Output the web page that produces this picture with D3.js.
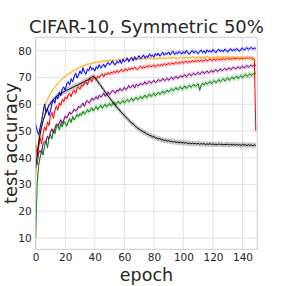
<!DOCTYPE html>
<html>
<head>
<meta charset="utf-8">
<script src="https://cdn.jsdelivr.net/npm/d3@7"></script>
<style>
  html, body { margin: 0; padding: 0; background: #fff; }
  text { font-family: "DejaVu Sans", sans-serif; fill: #262626; }
</style>
</head>
<body>
<svg id="chart"></svg>
<script>
let width = 286;
let height = 286;
let margin = { top: 37.3, right: 28.7, bottom: 36.7, left: 35.7 };

const xTicks = [0, 20, 40, 60, 80, 100, 120, 140];
const yTicks = [10, 20, 30, 40, 50, 60, 70, 80];

// test accuracy per epoch (0..149)
const blue = [
  52.5, 50.2, 48.6, 51.4, 53.8, 57.2, 60.1, 57.0, 58.3, 55.8,
  57.5, 60.2, 61.8, 60.4, 63.1, 62.0, 64.5, 63.2, 65.8, 66.4,
  65.1, 67.8, 68.3, 67.2, 69.5, 68.4, 70.2, 71.6, 69.8, 71.0,
  72.4, 71.3, 73.6, 72.0, 71.2, 73.1, 72.6, 74.2, 72.9, 73.5,
  72.4, 74.0, 73.3, 74.8, 73.6, 74.1, 75.0, 73.8, 74.9, 75.6,
  74.7, 75.3, 76.2, 75.0, 74.8, 76.0, 75.4, 76.5, 75.2, 76.8,
  75.9, 76.4, 77.3, 75.8, 76.9, 77.5, 76.2, 77.8, 76.6, 77.4,
  78.1, 76.9, 77.6, 78.4, 77.2, 78.0, 77.5, 78.8, 77.9, 78.3,
  77.6, 78.9, 78.2, 79.1, 78.0, 78.6, 79.4, 78.3, 79.0, 78.7,
  79.5, 78.4, 79.2, 79.8, 78.6, 79.3, 78.9, 79.7, 79.1, 78.8,
  79.6, 79.0, 80.1, 79.2, 78.7, 79.5, 80.0, 79.1, 79.8, 79.4,
  78.9, 79.7, 80.2, 79.3, 79.9, 79.0, 80.3, 79.6, 80.0, 79.4,
  80.4, 79.8, 79.2, 80.1, 80.5, 79.7, 80.2, 79.6, 80.6, 80.0,
  79.5, 80.3, 80.7, 79.9, 80.4, 80.1, 80.8, 80.2, 79.8, 80.6,
  80.9, 80.3, 80.7, 81.1, 80.5, 80.9, 81.2, 80.6, 81.0, 80.8
];
const orange = [
  33.0, 41.5, 47.0, 51.0, 54.0, 56.5, 58.8, 60.5, 61.8, 63.0,
  64.0, 64.8, 65.7, 66.3, 67.2, 67.6, 68.4, 68.9, 69.5, 69.8,
  70.4, 70.7, 71.3, 71.5, 72.0, 72.3, 72.6, 73.0, 73.1, 73.5,
  73.8, 73.9, 74.3, 74.5, 74.6, 74.9, 75.0, 75.2, 75.1, 75.5,
  75.4, 75.7, 75.6, 75.9, 75.8, 76.0, 76.2, 75.9, 76.3, 76.1,
  76.4, 76.2, 76.5, 76.3, 76.6, 76.4, 76.7, 76.5, 76.8, 76.6,
  76.9, 76.5, 76.8, 76.7, 77.0, 76.6, 76.9, 76.8, 77.1, 76.7,
  77.0, 76.8, 77.2, 76.9, 77.1, 76.8, 77.3, 77.0, 77.2, 76.9,
  77.3, 77.1, 76.9, 77.2, 77.0, 77.4, 77.1, 77.3, 77.0, 77.2,
  77.4, 77.1, 77.3, 77.5, 77.2, 77.4, 77.1, 77.3, 77.6, 77.2,
  77.4, 77.3, 77.6, 77.2, 77.5, 77.3, 77.7, 77.4, 77.2, 77.5,
  77.3, 77.6, 77.4, 77.7, 77.3, 77.5, 77.8, 77.4, 77.6, 77.3,
  77.7, 77.5, 77.4, 77.8, 77.5, 77.6, 77.3, 77.7, 77.5, 77.8,
  77.4, 77.6, 77.5, 77.7, 77.3, 77.6, 77.4, 77.5, 77.2, 77.4,
  77.3, 77.5, 77.1, 77.3, 77.0, 77.2, 76.9, 76.6, 76.4, 76.2
];
const red = [
  45.0, 40.5, 43.8, 47.5, 45.2, 49.0, 51.5, 50.2, 53.4, 52.0,
  55.8, 56.9, 54.7, 57.6, 59.3, 57.8, 60.5, 59.6, 61.8, 61.0,
  62.7, 61.9, 63.5, 64.1, 62.8, 64.6, 65.2, 64.0, 65.9, 66.4,
  65.6, 67.1, 66.8, 67.9, 68.3, 67.2, 68.9, 69.5, 68.4, 69.8,
  70.3, 69.2, 70.5, 69.9, 70.8, 71.3, 70.2, 71.5, 70.9, 71.8,
  71.2, 72.0, 71.5, 72.3, 71.7, 72.6, 71.9, 72.4, 73.0, 72.2,
  72.8, 73.2, 72.5, 73.4, 72.9, 73.6, 73.1, 73.8, 73.3, 73.0,
  73.7, 74.1, 73.4, 74.0, 73.6, 74.3, 73.8, 74.5, 74.0, 74.2,
  74.6, 73.9, 74.4, 74.8, 74.2, 74.9, 74.5, 75.1, 74.7, 74.9,
  75.3, 74.8, 75.5, 75.0, 75.2, 75.7, 75.1, 75.6, 75.3, 75.9,
  75.4, 75.8, 76.1, 75.5, 76.0, 75.7, 76.3, 75.8, 76.2, 76.0,
  76.4, 75.9, 76.6, 76.1, 76.3, 76.7, 76.2, 76.5, 76.9, 76.3,
  76.6, 76.8, 76.4, 77.0, 76.5, 76.9, 76.6, 77.1, 76.7, 76.9,
  77.2, 76.7, 77.0, 76.8, 77.3, 76.9, 77.1, 77.4, 76.8, 77.2,
  77.0, 77.3, 76.9, 77.5, 77.1, 77.4, 77.0, 77.3, 76.8, 50.0
];
const purple = [
  40.0, 37.5, 41.8, 42.6, 41.9, 45.3, 45.9, 46.2, 48.1, 47.0,
  49.6, 50.8, 49.4, 51.0, 52.6, 51.9, 53.0, 54.2, 52.8, 54.1,
  55.6, 54.8, 55.9, 57.1, 56.3, 57.0, 58.2, 57.5, 57.8, 59.3,
  58.7, 59.6, 60.4, 59.2, 60.8, 61.3, 60.5, 61.0, 62.3, 61.6,
  62.0, 62.8, 61.9, 63.4, 62.7, 63.1, 64.2, 63.0, 63.6, 64.5,
  63.7, 64.3, 65.2, 64.6, 64.1, 65.3, 64.8, 65.9, 65.1, 65.4,
  66.3, 65.5, 65.9, 67.0, 66.1, 66.6, 67.2, 66.0, 67.5, 66.9,
  67.1, 67.9, 67.3, 67.6, 68.4, 67.5, 68.1, 68.6, 67.8, 68.3,
  68.9, 68.1, 68.5, 69.2, 68.7, 68.8, 69.6, 68.9, 69.1, 69.7,
  69.0, 69.5, 70.1, 69.3, 69.8, 70.4, 69.7, 70.0, 70.6, 70.2,
  70.5, 71.0, 70.3, 70.8, 71.4, 70.7, 71.1, 71.6, 70.9, 71.5,
  71.9, 71.2, 71.6, 72.2, 71.5, 71.8, 72.4, 71.7, 72.1, 72.6,
  72.0, 72.5, 72.9, 72.2, 72.7, 73.2, 72.5, 72.9, 73.4, 72.8,
  73.1, 73.6, 72.9, 73.4, 73.8, 73.2, 73.5, 74.0, 73.4, 73.7,
  74.2, 73.6, 74.0, 74.4, 73.8, 74.3, 74.6, 74.1, 74.7, 74.6
];
const green = [
  10.0, 30.5, 37.0, 40.2, 42.8, 41.0, 44.5, 46.2, 43.8, 47.5,
  48.6, 47.1, 50.2, 49.0, 51.5, 52.3, 50.4, 52.8, 51.5, 53.6,
  52.9, 51.8, 53.5, 54.6, 53.2, 55.4, 54.1, 55.0, 56.2, 55.3,
  56.5, 55.9, 57.3, 56.4, 56.9, 58.0, 57.1, 57.8, 58.6, 57.5,
  58.4, 59.1, 58.0, 58.8, 59.6, 58.5, 59.2, 60.0, 59.1, 59.5,
  60.3, 59.4, 60.0, 60.8, 59.7, 60.4, 61.1, 60.2, 60.6, 61.4,
  60.5, 61.2, 61.8, 61.0, 61.5, 62.3, 61.2, 61.9, 62.6, 61.7,
  62.2, 62.9, 62.0, 62.7, 63.4, 62.4, 63.0, 63.8, 62.9, 63.5,
  64.1, 63.2, 63.8, 64.5, 63.6, 64.2, 64.9, 64.0, 64.6, 65.3,
  64.5, 65.2, 65.8, 65.0, 65.5, 66.2, 65.3, 65.9, 66.5, 65.6,
  66.1, 66.8, 65.9, 66.5, 67.1, 66.3, 66.8, 67.4, 66.6, 67.2,
  67.6, 65.2, 67.0, 67.8, 67.2, 68.1, 67.5, 67.9, 68.5, 67.7,
  68.2, 68.8, 68.0, 68.6, 69.2, 68.4, 68.9, 69.5, 68.7, 69.3,
  69.8, 69.0, 69.5, 70.1, 69.4, 69.9, 70.5, 69.6, 70.2, 70.7,
  70.0, 70.6, 71.1, 70.4, 70.9, 71.4, 70.7, 71.2, 71.5, 71.6
];
const black = [
  36.0, 41.0, 45.5, 48.8, 51.5, 53.8, 55.6, 57.2, 58.4, 59.6,
  60.3, 61.1, 61.8, 62.2, 62.9, 63.3, 63.6, 64.1, 64.3, 64.6,
  64.9, 65.3, 65.4, 65.8, 66.0, 66.3, 66.5, 66.9, 67.0, 67.4,
  67.6, 67.9, 68.2, 68.4, 68.8, 69.0, 69.4, 69.7, 70.1, 70.4,
  69.9, 69.2, 68.5, 67.6, 67.1, 66.1, 65.5, 64.5, 64.0, 63.0,
  62.5, 61.5, 61.0, 60.1, 59.6, 58.7, 58.3, 57.5, 57.0, 56.3,
  55.9, 55.1, 54.7, 54.0, 53.6, 52.9, 52.7, 51.9, 51.6, 51.0,
  50.8, 50.2, 50.1, 49.5, 49.4, 48.9, 48.8, 48.3, 48.3, 47.8,
  47.9, 47.4, 47.4, 47.0, 47.2, 46.7, 46.8, 46.4, 46.6, 46.2,
  46.4, 46.0, 46.2, 45.8, 46.1, 45.7, 45.9, 45.6, 45.9, 45.5,
  45.7, 45.4, 45.7, 45.3, 45.5, 45.2, 45.5, 45.2, 45.4, 45.1,
  45.4, 45.0, 45.3, 45.1, 45.3, 44.9, 45.2, 45.0, 45.3, 44.9,
  45.2, 44.9, 45.1, 44.8, 45.2, 44.9, 45.1, 44.8, 45.0, 44.9,
  45.1, 44.7, 45.0, 44.8, 45.0, 44.7, 45.0, 44.7, 44.9, 44.6,
  45.0, 44.7, 44.9, 44.5, 44.9, 44.6, 44.8, 44.5, 44.8, 44.6
];

// half width of the shaded band for each run
const spread = { green: 1.0, purple: 0.8, red: 0.8, orange: 0.5, blue: 0.7, black: 1.0 };

const SERIES = [
  { name: 'green', color: 'green', values: green },
  { name: 'purple', color: 'purple', values: purple },
  { name: 'red', color: 'red', values: red },
  { name: 'orange', color: 'orange', values: orange },
  { name: 'blue', color: 'blue', values: blue },
  { name: 'black', color: 'black', values: black }
];

let svg = d3.select('#chart')
  .attr('width', width)
  .attr('height', height);

let x = d3.scaleLinear()
  .domain([0, 150])
  .range([margin.left, width - margin.right]);

let y = d3.scaleLinear()
  .domain([5.8, 85])
  .range([height - margin.bottom, margin.top]);

// grid
svg.append('g')
  .selectAll('line')
  .data(xTicks)
  .enter().append('line')
    .attr('x1', d => x(d)).attr('x2', d => x(d))
    .attr('y1', margin.top).attr('y2', height - margin.bottom)
    .attr('stroke', '#e3e3e3').attr('stroke-width', 1);

svg.append('g')
  .selectAll('line')
  .data(yTicks)
  .enter().append('line')
    .attr('x1', margin.left).attr('x2', width - margin.right)
    .attr('y1', d => y(d)).attr('y2', d => y(d))
    .attr('stroke', '#e3e3e3').attr('stroke-width', 1);

// bands and lines
let line = d3.line()
  .x((d, i) => x(i))
  .y(d => y(d));

SERIES.forEach(s => {
  let sd = spread[s.name];
  let area = d3.area()
    .x((d, i) => x(i))
    .y0(d => y(d - sd))
    .y1(d => y(d + sd));
  svg.append('path')
    .datum(s.values)
    .attr('d', area)
    .attr('fill', s.color)
    .attr('opacity', 0.22);
});

SERIES.forEach(s => {
  svg.append('path')
    .datum(s.values)
    .attr('d', line)
    .attr('fill', 'none')
    .attr('stroke', s.color)
    .attr('stroke-width', 1);
});

// frame
svg.append('rect')
  .attr('x', margin.left).attr('y', margin.top)
  .attr('width', width - margin.left - margin.right)
  .attr('height', height - margin.top - margin.bottom)
  .attr('fill', 'none')
  .attr('stroke', '#cccccc');

// axes
let xAxis = g => g
  .attr('transform', `translate(0,${height - margin.bottom})`)
  .call(d3.axisBottom(x).tickValues(xTicks).tickSize(0).tickPadding(4))
  .call(g => g.select('.domain').remove());

let yAxis = g => g
  .attr('transform', `translate(${margin.left},0)`)
  .call(d3.axisLeft(y).tickValues(yTicks).tickSize(0).tickPadding(4))
  .call(g => g.select('.domain').remove());

svg.append('g').call(xAxis)
  .selectAll('text').attr('font-size', 10.5).attr('font-family', 'DejaVu Sans');
svg.append('g').call(yAxis)
  .selectAll('text').attr('font-size', 10.5).attr('font-family', 'DejaVu Sans');

svg.append('text')
  .attr('x', (margin.left + width - margin.right) / 2)
  .attr('y', 32.5)
  .attr('text-anchor', 'middle')
  .attr('font-size', 18)
  .text('CIFAR-10, Symmetric 50%');

svg.append('text')
  .attr('x', (margin.left + width - margin.right) / 2)
  .attr('y', 281)
  .attr('text-anchor', 'middle')
  .attr('font-size', 17.5)
  .text('epoch');

svg.append('text')
  .attr('transform', `translate(16.5,${(margin.top + height - margin.bottom) / 2}) rotate(-90)`)
  .attr('text-anchor', 'middle')
  .attr('font-size', 18)
  .text('test accuracy');
</script>
</body>
</html>
